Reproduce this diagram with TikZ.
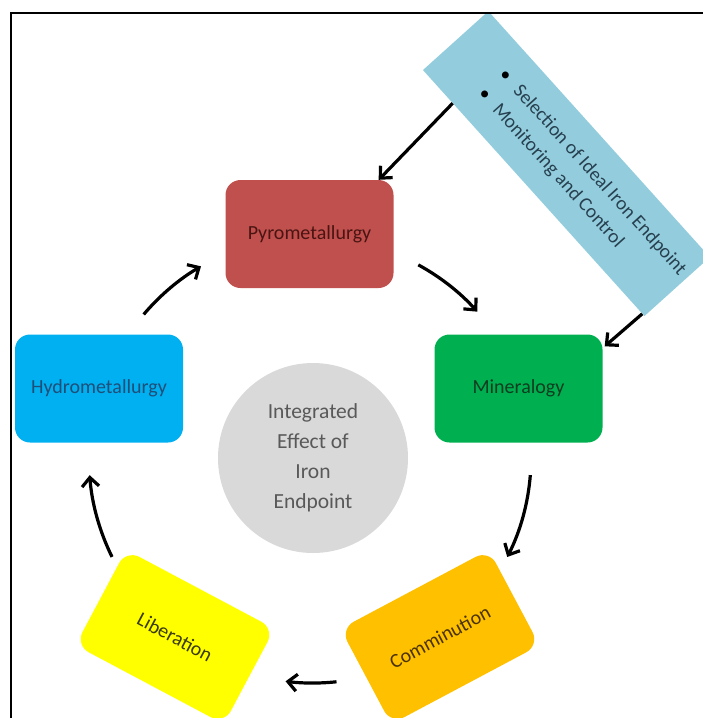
\documentclass[tikz,border=0pt]{standalone}
\usepackage{fontspec}
\setmainfont{Carlito}
\usetikzlibrary{arrows.meta,calc}
\definecolor{pyrofill}{HTML}{C0504D}
\definecolor{pyrotext}{HTML}{4A1412}
\definecolor{minfill}{HTML}{00B050}
\definecolor{mintext}{HTML}{0D3D1F}
\definecolor{hydrofill}{HTML}{00B0F0}
\definecolor{hydrotext}{HTML}{1F4E79}
\definecolor{libfill}{HTML}{FFFF00}
\definecolor{libtext}{HTML}{3A3A10}
\definecolor{commfill}{HTML}{FFC000}
\definecolor{commtext}{HTML}{4A3300}
\definecolor{corefill}{HTML}{D9D9D9}
\definecolor{coretext}{HTML}{595959}
\definecolor{bannerfill}{HTML}{93CDDD}
\definecolor{bannertext}{HTML}{27404F}
\begin{document}
\begin{tikzpicture}[x=1pt,y=1pt,
  stagebox/.style={rounded corners=15pt, minimum width=168pt, minimum height=108pt,
    inner sep=0pt, font=\fontsize{20}{24}\selectfont},
  arr/.style={line width=3.2pt, -{Straight Barb[length=9pt,width=17pt]}},
]
\useasboundingbox (0,0) rectangle (703,-718);
\clip (0,0) rectangle (703,-718);

% banner
\begin{scope}
\clip (11,-13) rectangle (703,-718);
\node[fill=bannerfill, rotate=-48, minimum width=331pt, minimum height=88pt, inner sep=0pt]
  (banner) at (566.4,-163.6) {};
\end{scope}
\node[rotate=-48, anchor=west, align=left, inner sep=0pt, text=bannertext,
  font=\fontsize{19.5}{28}\selectfont]
  (bannertxt) at ($(banner.west)!52pt!(banner.east)+(1,-2)$)
  {\textcolor{black}{\textbullet}\hspace{12pt}Selection of Ideal Iron Endpoint\\
   \textcolor{black}{\textbullet}\hspace{12pt}Monitoring and Control};

% stages
\node[stagebox, fill=pyrofill, text=pyrotext] (pyro) at (309.5,-234) {Pyrometallurgy};
\node[stagebox, fill=minfill, text=mintext] (min) at (518.5,-388.5) {Mineralogy};
\node[stagebox, fill=hydrofill, text=hydrotext] (hydro) at (99,-388.5) {Hydrometallurgy};
\node[stagebox, fill=libfill, text=libtext, rotate=-28] (lib) at (175,-637) {Liberation};
\node[stagebox, fill=commfill, text=commtext, rotate=28] (comm) at (440,-637) {Comminution};

% core
\node[circle, fill=corefill, minimum size=190pt, inner sep=0pt, align=center,
  text=coretext, font=\fontsize{21.5}{30}\selectfont] (core) at (313,-458)
  {Integrated\\Effect of\\Iron\\Endpoint};

% connectors
\draw[arr] ($(banner.south west)!0.135!(banner.south east)$) -- ($(pyro.north east)+(-15,0)$);
\draw[arr] ($(banner.south west)!0.99!(banner.south east)$) -- ($(min.north east)+(2,-12)$);
\draw[arr] ($(core.center)+(139.7:222)$) arc[start angle=139.7, end angle=120.3, radius=222];
\draw[arr] ($(core.center)+(61.4:220)$) arc[start angle=61.4, end angle=41.7, radius=220];
\draw[arr] ($(core.center)+(-4.5:218)$) arc[start angle=-4.5, end angle=-27, radius=218];
\draw[arr] ($(core.center)+(-84:225)$) arc[start angle=-84, end angle=-97, radius=225];
\draw[arr] ($(core.center)+(206.2:224)$) arc[start angle=206.2, end angle=184.4, radius=224];

% frame
\draw[line width=1.8pt] (11,-718) -- (11,-13) -- (704,-13);
\end{tikzpicture}
\end{document}
